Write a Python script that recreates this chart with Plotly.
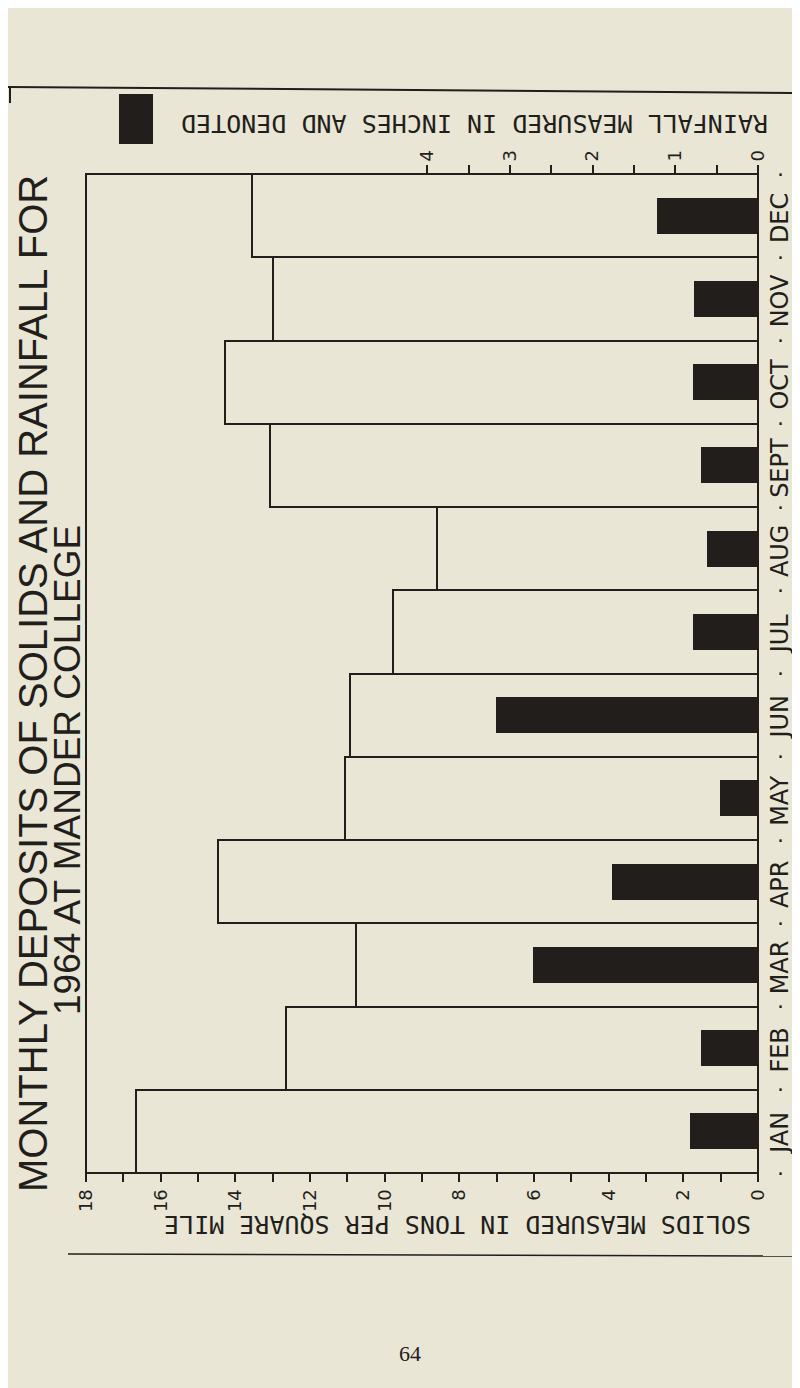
import plotly.graph_objects as go

# ---------------- data ----------------
months = ["JAN", "FEB", "MAR", "APR", "MAY", "JUN", "JUL", "AUG", "SEPT", "OCT", "NOV", "DEC"]
solids = [16.65, 12.63, 10.77, 14.47, 11.07, 10.92, 9.78, 8.61, 13.07, 14.27, 12.99, 13.55]  # tons / sq mile
rainfall = [0.82, 0.69, 2.72, 1.77, 0.46, 3.17, 0.79, 0.62, 0.69, 0.79, 0.77, 1.22]         # inches
solids_ticks = list(range(0, 19))
solids_ticklabels = [str(v) if v % 2 == 0 else "" for v in solids_ticks]
rain_ticks = [0, 0.5, 1, 1.5, 2, 2.5, 3, 3.5, 4]
rain_ticklabels = ["0", "", "1", "", "2", "", "3", "", "4"]

title1 = "MONTHLY DEPOSITS OF SOLIDS AND RAINFALL FOR"
title2 = "1964 AT MANDER COLLEGE"
rain_title = "RAINFALL MEASURED IN INCHES AND DENOTED"
solids_title = "SOLIDS MEASURED IN TONS PER SQUARE MILE"
page_no = "64"

# ---------------- layout geometry (pixels) ----------------
W, H = 800, 1388
PL, PR, PT, PB = 78, 750, 166, 1165
BG = "#e9e6d5"
INK = "#221e1b"
RAIN_PX_PER_INCH = 82.7
rain_max = (PR - PL) / RAIN_PX_PER_INCH


def px(x):
    return (x - PL) / (PR - PL)


def py(y):
    return (PB - y) / (PB - PT)


ypos = list(range(len(months)))

fig = go.Figure()
fig.add_trace(go.Bar(
    y=ypos, x=solids, orientation="h", width=1.0,
    marker=dict(color="rgba(0,0,0,0)", line=dict(color=INK, width=2)),
    xaxis="x", yaxis="y", showlegend=False, hoverinfo="x+y",
))
fig.add_trace(go.Bar(
    y=ypos, x=rainfall, orientation="h", width=0.43,
    marker=dict(color=INK, line=dict(width=0)),
    xaxis="x2", yaxis="y", showlegend=False, hoverinfo="x+y",
))

tickfont = dict(family="DejaVu Sans", size=18, color=INK)
fig.update_layout(
    width=W, height=H,
    margin=dict(l=PL, r=W - PR, t=PT, b=H - PB, pad=0),
    paper_bgcolor=BG, plot_bgcolor=BG,
    barmode="overlay", bargap=0,
    xaxis=dict(range=[18, 0], tickmode="array", tickvals=solids_ticks, ticktext=solids_ticklabels,
               ticks="outside", ticklen=8, tickwidth=1.5, tickcolor=INK, tickangle=-90,
               tickfont=tickfont, showgrid=False, zeroline=False, showline=False),
    xaxis2=dict(range=[rain_max, 0], overlaying="x", side="top", tickmode="array",
                tickvals=rain_ticks, ticktext=rain_ticklabels,
                ticks="outside", ticklen=8, tickwidth=1.5, tickcolor=INK, tickangle=-90,
                tickfont=tickfont, showgrid=False, zeroline=False, showline=False),
    yaxis=dict(range=[-0.5, 11.5], showticklabels=False, ticks="", showgrid=False,
               zeroline=False, showline=False),
)

shapes = [
    # plot frame
    dict(type="rect", xref="paper", yref="paper", x0=0, x1=1, y0=0, y1=1,
         line=dict(color=INK, width=2)),
    # legend black square
    dict(type="rect", xref="paper", yref="paper", x0=px(111), x1=px(145), y0=py(136), y1=py(86),
         fillcolor=INK, line=dict(width=0)),
    # page rules
    dict(type="line", xref="paper", yref="paper", x0=px(0), x1=px(800), y0=py(79), y1=py(85),
         line=dict(color=INK, width=2)),
    dict(type="line", xref="paper", yref="paper", x0=px(2), x1=px(2), y0=py(79), y1=py(95),
         line=dict(color=INK, width=2)),
    dict(type="line", xref="paper", yref="paper", x0=px(60), x1=px(790), y0=py(1246), y1=py(1248),
         line=dict(color=INK, width=1.5)),
    # page edge shadow
    dict(type="rect", xref="paper", yref="paper", x0=px(790), x1=px(800), y0=py(H), y1=py(0),
         fillcolor="#d3cfbf", line=dict(width=0), layer="below"),
]

annotations = []
title_font = dict(family="Liberation Sans", size=40, color=INK)
# titles (rotated)
annotations.append(dict(text=title1, xref="paper", yref="paper", x=px(25), y=py(676),
                        textangle=-90, showarrow=False, xanchor="center", yanchor="middle",
                        font=title_font))
annotations.append(dict(text=title2, xref="paper", yref="paper", x=px(59), y=py(762),
                        textangle=-90, showarrow=False, xanchor="center", yanchor="middle",
                        font=dict(family="Liberation Sans", size=37, color=INK)))
# axis titles (upside down)
annotations.append(dict(text=rain_title, xref="paper", yref="paper", x=px(466), y=py(116),
                        textangle=180, showarrow=False, xanchor="center", yanchor="middle",
                        font=dict(family="DejaVu Sans Mono", size=25, color=INK)))
annotations.append(dict(text=solids_title, xref="paper", yref="paper", x=px(450), y=py(1217),
                        textangle=180, showarrow=False, xanchor="center", yanchor="middle",
                        font=dict(family="DejaVu Sans Mono", size=25, color=INK)))
# month labels and separating dots
for i, m in enumerate(months):
    annotations.append(dict(text=m, xref="paper", yref="y", x=px(772), y=i - 0.03,
                            textangle=-90, showarrow=False, xanchor="center", yanchor="middle",
                            font=dict(family="DejaVu Sans", size=24, color=INK)))
for i in range(len(months) + 1):
    annotations.append(dict(text="·", xref="paper", yref="y", x=px(772), y=i - 0.5,
                            showarrow=False, xanchor="center", yanchor="middle",
                            font=dict(family="DejaVu Sans", size=22, color=INK)))
# page number
annotations.append(dict(text=page_no, xref="paper", yref="paper", x=px(402), y=py(1345),
                        showarrow=False, xanchor="center", yanchor="middle",
                        font=dict(family="Liberation Serif", size=22, color=INK)))

fig.update_layout(shapes=shapes, annotations=annotations)
fig.write_html("out.html")
